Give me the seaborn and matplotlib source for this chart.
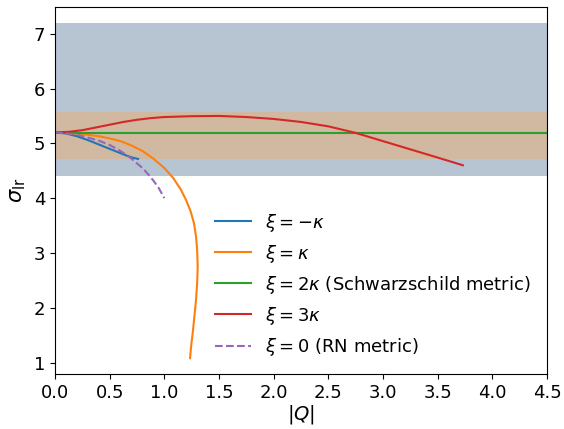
import matplotlib
matplotlib.use("Agg")
import matplotlib.pyplot as plt
import seaborn as sns
import pandas as pd

plt.rcParams["font.size"] = 13

# xi = -kappa
q_neg = [0.0, 0.1, 0.2, 0.3, 0.4, 0.5, 0.6, 0.65, 0.7, 0.76]
s_neg = [5.20, 5.18, 5.13, 5.06, 4.98, 4.90, 4.82, 4.78, 4.745, 4.715]

# xi = kappa
q_k = [0.0, 0.2, 0.4, 0.5, 0.6, 0.7, 0.8, 0.9, 1.0, 1.08, 1.15, 1.2, 1.24,
       1.27, 1.29, 1.30, 1.305, 1.30, 1.29, 1.275, 1.26, 1.245, 1.235]
s_k = [5.20, 5.18, 5.13, 5.09, 5.04, 4.96, 4.86, 4.72, 4.55, 4.37, 4.16, 3.96,
       3.76, 3.55, 3.30, 3.05, 2.75, 2.45, 2.15, 1.85, 1.55, 1.30, 1.08]

# xi = 2 kappa (Schwarzschild)
q_2k = [0.0, 4.5]
s_2k = [5.196, 5.196]

# xi = 3 kappa
q_3k = [0.0, 0.125, 0.25, 0.375, 0.5, 0.625, 0.75, 0.875, 1.0, 1.25, 1.5,
        1.75, 2.0, 2.25, 2.5, 2.75, 3.0, 3.25, 3.5, 3.73]
s_3k = [5.20, 5.21, 5.24, 5.29, 5.34, 5.39, 5.43, 5.46, 5.48, 5.495, 5.50,
        5.48, 5.445, 5.39, 5.31, 5.19, 5.04, 4.89, 4.74, 4.60]

# xi = 0 (RN)
q_rn = [0.0, 0.2, 0.4, 0.5, 0.6, 0.7, 0.8, 0.85, 0.9, 0.95, 1.0]
s_rn = [5.20, 5.16, 5.05, 4.97, 4.86, 4.72, 4.55, 4.44, 4.32, 4.18, 4.00]

# observational bands
band_outer = (4.40, 7.20)
band_inner = (4.71, 5.58)

fig = plt.figure(figsize=(5.64, 4.29), dpi=100)
ax = fig.add_axes([0.0975, 0.128, 0.8725, 0.856])

ax.axhspan(*band_outer, color="#b7c5d3", lw=0)
ax.axhspan(*band_inner, color="#d0b9a0", lw=0)

curves = [
    (q_neg, s_neg, r"$\xi=-\kappa$", "C0", "-"),
    (q_k, s_k, r"$\xi=\kappa$", "C1", "-"),
    (q_2k, s_2k, r"$\xi=2\kappa$ (Schwarzschild metric)", "C2", "-"),
    (q_3k, s_3k, r"$\xi=3\kappa$", "C3", "-"),
    (q_rn, s_rn, r"$\xi=0$ (RN metric)", "C4", "--"),
]
for q, s, lab, col, ls in curves:
    df = pd.DataFrame({"Q": q, "sigma": s})
    sns.lineplot(data=df, x="Q", y="sigma", sort=False, estimator=None,
                 color=col, linestyle=ls, lw=1.5, label=lab, ax=ax)

ax.set_xlim(0, 4.5)
ax.set_ylim(0.79, 7.49)
ax.set_xlabel(r"$|Q|$", fontsize=14, labelpad=1)
ax.set_ylabel(r"$\sigma_{\rm lr}$", fontsize=15)
ax.legend(loc="lower right", frameon=False)

fig.savefig("out.png", dpi=100)
